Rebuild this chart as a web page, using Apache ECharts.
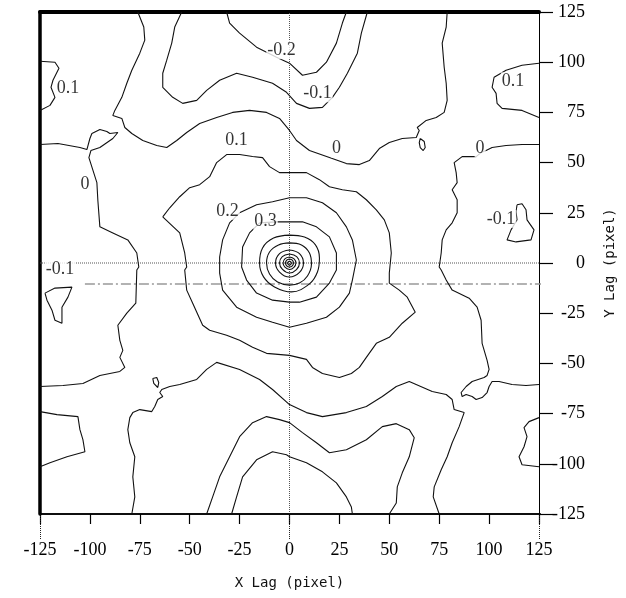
<!DOCTYPE html>
<html>
<head>
<meta charset="utf-8">
<script src="https://cdn.jsdelivr.net/npm/echarts@6/dist/echarts.min.js"></script>
<style>
  html, body { margin: 0; padding: 0; background: #fff; }
  #chart { width: 626px; height: 598px; }
</style>
</head>
<body>
<div id="chart"></div>
<script>
// axis range (pixel lag)
const lagMin = -125
const lagMax = 125
const lagStep = 25

// contour paths, [x lag, y lag]
const topLeftIsland01 = [[-125, 100.5], [-117.5, 100], [-115.5, 97], [-118.5, 91], [-119.5, 87.5], [-117.5, 82.5], [-120, 78.5], [-125, 76]]

const leftZero = [[-125, 59], [-116, 59.5], [-105, 57.5], [-101.5, 56.5], [-100, 62], [-99, 64.5], [-95, 66.5], [-91.5, 65.5], [-90, 64.5], [-86, 65], [-88.5, 62], [-95, 57.5], [-99.5, 56], [-100.5, 52.5], [-96.5, 40], [-96, 31], [-95, 18], [-88.5, 15], [-81, 11.5], [-76.5, 5], [-75.5, -2], [-76.5, -3.5], [-77, -20], [-81.5, -25], [-86, -31], [-85, -38.5], [-83.5, -43.5], [-85, -47], [-82.5, -52], [-85, -54], [-95, -56], [-103.5, -60], [-113.5, -61], [-125, -61.5]]

const topZero = [[-76, 125], [-73, 117.5], [-72.5, 111], [-75, 104.5], [-79, 96], [-81.5, 89.5], [-84, 82.5], [-87.5, 76], [-88.5, 73.5], [-84, 72], [-82.5, 67.5], [-79, 64.5], [-73.5, 61], [-66.5, 58.5], [-61.5, 57.5], [-56.5, 61], [-51.5, 65], [-45, 69.5], [-36.5, 72.5], [-28.5, 75], [-20, 76], [-11.5, 75], [-5, 72], [0, 66], [3.5, 61], [10, 56], [20, 52.5], [28.5, 49.5], [35, 49], [40, 51], [45, 57], [50, 60], [56.5, 62], [63.5, 62.5], [65, 66], [64, 67.5], [68.5, 71], [73.5, 72.5], [77.5, 75], [79, 81], [78.5, 89.5], [77.5, 97.5], [76.5, 109.5], [78.5, 117.5], [79, 125]]

const topZeroIsland = [[65.5, 62], [67.5, 60.5], [68, 57.5], [67, 56], [65.5, 57.5], [65, 60], [65.5, 62]]

const topMinus01 = [[-54, 125], [-57.5, 117.5], [-59, 109.5], [-61.5, 101], [-63.5, 94.5], [-63.5, 87.5], [-58.5, 82.5], [-53.5, 79.5], [-46.5, 81], [-41.5, 86], [-35, 91], [-26.5, 94.5], [-18.5, 92.5], [-8.5, 89.5], [-1.5, 85], [3.5, 79.5], [10, 77], [16.5, 77.5], [21.5, 82.5], [25, 87.5], [29, 94.5], [34, 104.5], [36, 114.5], [39, 125]]

const topMinus02 = [[-31.5, 125], [-30, 119.5], [-25, 114.5], [-16.5, 107.5], [-6.5, 102.5], [0, 99.5], [6.5, 93.5], [13.5, 95], [18.5, 100], [23.5, 109.5], [26.5, 119.5], [28.5, 125]]

const ring01 = [[-63.5, 23], [-60, 27.5], [-55, 33], [-50, 37.5], [-45, 39], [-40, 43], [-36.5, 50], [-31.5, 54], [-25, 54], [-18.5, 53], [-13.5, 52.5], [-10, 48], [-5, 45], [0, 45], [8.5, 45], [15, 41.5], [20, 38], [26.5, 36.5], [33.5, 35.5], [38.5, 31.5], [43.5, 26.5], [47.5, 21.5], [50, 15], [51, 5], [50, -5], [50, -10], [55, -13.5], [59, -17], [63, -24.5], [56.5, -30], [50, -37], [43.5, -40], [38.5, -47], [35, -52], [31, -55], [25, -57], [16.5, -55], [11.5, -52], [8.5, -48], [0, -46], [-11.5, -45], [-18.5, -42], [-25, -38.5], [-31.5, -36], [-40, -33.5], [-43.5, -31], [-48.5, -20], [-51.5, -13.5], [-52.5, -3.5], [-51.5, -2], [-52.5, 5], [-55, 15], [-63.5, 23]]

const ring02 = [[-25, 25], [-16.5, 29], [-8.5, 30.5], [0, 32.5], [8.5, 32.5], [16.5, 30], [23.5, 25], [28.5, 18], [31.5, 11.5], [33.5, 1.5], [31.5, -8.5], [30, -15], [25, -22], [18.5, -27], [8.5, -30], [0, -32], [-8.5, -29.5], [-16.5, -27], [-26.5, -22], [-33.5, -13.5], [-35, -5], [-35, 3], [-33.5, 11.5], [-30, 20], [-25, 25]]

const ring03 = [[-15, 20], [-6.5, 20.5], [0, 20.5], [6.5, 20.5], [13.5, 18], [20, 13], [23.5, 5], [23.5, -3.5], [20, -10], [13.5, -17], [5, -19.5], [0, -19.5], [-8.5, -18.5], [-16.5, -15], [-21.5, -8.5], [-24, -2], [-23.5, 8], [-20, 15], [-15, 20]]

const ring04 = [[0, 13.9], [7.5, 12.9], [13, 9], [15, 2.5], [14, -4.5], [10, -10.4], [1, -14.4], [-7.5, -11.9], [-13, -6.9], [-15, 0], [-13.5, 7.5], [-8, 12.4], [0, 13.9]]
const ring05 = [[0, 10], [6, 9], [10, 5], [11, -0.5], [9, -6.5], [5, -10], [0, -11], [-6, -9.5], [-10, -5.5], [-11.5, 0], [-10, 5.5], [-5.5, 9], [0, 10]]
const ring06 = [[0, 6.5], [5, 4.7], [7, 0], [5, -4.7], [0, -7], [-5, -4.5], [-7, 0], [-5, 4.7], [0, 6.5]]
const ring07 = [[0, 4.5], [3.6, 3.2], [5, 0], [3.5, -3.3], [0, -5], [-3.5, -3.2], [-5, 0], [-3.6, 3.2], [0, 4.5]]
const ring08 = [[0, 3], [2.3, 2.1], [3.2, 0], [2.2, -2.2], [0, -3.2], [-2.3, -2.1], [-3.2, 0], [-2.2, 2.2], [0, 3]]
const ring09 = [[0, 2], [1.4, 1.4], [2, 0], [1.4, -1.4], [0, -2], [-1.4, -1.4], [-2, 0], [-1.4, 1.4], [0, 2]]
const ring10 = [[0, 1], [1, 0], [0, -1], [-1, 0], [0, 1]]

const rightIsland01 = [[125, 99.5], [116.5, 98.5], [108.5, 96], [102.5, 92.5], [101.5, 87.5], [103.5, 84.5], [104, 79.5], [106.5, 77], [116.5, 76], [125, 72.5]]

const rightZero = [[125, 59], [116.5, 59], [108.5, 58.5], [101.5, 57.5], [98.5, 56], [96, 55], [93.5, 53], [86.5, 53], [82.5, 50], [83.5, 45], [84, 40], [81.5, 36.5], [84, 31.5], [84, 25], [81.5, 20], [78.5, 16.5], [76.5, 11.5], [76, 5], [75, -2], [76, -3.5], [78.5, -8.5], [81.5, -13.5], [90, -17.5], [94, -22], [96, -28.5], [96.5, -40], [99, -48.5], [100, -53], [99, -56], [97.5, -57], [91.5, -59], [88.5, -61.5], [86, -64.5], [86.5, -66.5], [88.5, -65.5], [91.5, -66.5], [93.5, -68], [96.5, -67], [99, -64.5], [100, -61.5], [101.5, -59], [105, -59], [111.5, -60.5], [118.5, -61], [125, -60.5]]

const rightIslandMinus01 = [[114, 29], [116.5, 29.5], [118.5, 26.5], [119, 21.5], [122.5, 16.5], [121, 11.5], [113.5, 10.5], [109, 11.5], [111, 16.5], [114, 21.5], [113.5, 25.5], [114, 29]]

const rightBottomIsland = [[125, -77], [120, -79], [117.5, -82], [119, -86.5], [117.5, -91.5], [115, -96.5], [116.5, -100.5], [125, -101.5]]

const bottomZero = [[75, -125], [72, -116.5], [72.5, -111.5], [76, -103], [79, -96.5], [81.5, -89.5], [85, -81.5], [87.5, -74.5], [82.5, -73], [81.5, -68], [78.5, -65.5], [71.5, -64], [60, -59], [53.5, -61.5], [46.5, -66.5], [38.5, -71.5], [28.5, -74.5], [16.5, -76.5], [8.5, -74.5], [0, -70.5], [-8.5, -63], [-15, -58], [-25, -53], [-36.5, -49.5], [-41.5, -53], [-46.5, -58], [-55, -60.5], [-60, -61.5], [-64, -63], [-65, -64.5], [-63.5, -66.5], [-66, -68], [-67.5, -71.5], [-69, -74], [-75, -73], [-78.5, -74.5], [-80, -77], [-81, -83], [-80, -89.5], [-77.5, -96.5], [-78.5, -106.5], [-77.5, -116.5], [-79, -125]]

const bottomZeroIsland = [[-68.5, -57.5], [-66.5, -57], [-65.5, -59.5], [-66, -62], [-67, -62.5], [-68, -60], [-68.5, -57.5]]

const bottomMinus01 = [[-41.5, -125], [-38.5, -116.5], [-35, -106.5], [-30, -96.5], [-25, -86.5], [-18.5, -79.5], [-11.5, -76.5], [-5, -78], [0, -79.5], [6.5, -84.5], [13.5, -89.5], [20, -94.5], [28.5, -93], [38.5, -88], [46.5, -81.5], [53.5, -80], [60, -83], [62.5, -87], [60, -96.5], [56.5, -104.5], [54, -111.5], [53.5, -119.5], [50, -125]]

const bottomMinus02 = [[-29, -125], [-26.5, -116.5], [-23.5, -106.5], [-16.5, -98], [-8.5, -94], [-1.5, -95.5], [0, -96.5], [8.5, -99.5], [16.5, -104], [23.5, -109.5], [28.5, -116.5], [31, -121.5], [31.5, -125]]

const leftBottomIsland = [[-125, -74], [-116.5, -75.5], [-106, -76.5], [-105, -83], [-103.5, -88], [-102.5, -94], [-111.5, -96.5], [-120, -99.5], [-125, -101.5]]

const leftIslandMinus01 = [[-122.5, -15], [-117.5, -12.5], [-109, -12], [-111, -17], [-114, -22], [-114, -30], [-117.5, -28.5], [-119, -23.5], [-121.5, -18.5], [-122.5, -15]]

// contour level labels [x, y, text]
const contourLabels = [
  [-4, 106, '-0.2'],
  [14, 84.5, '-0.1'],
  [-111, 87, '0.1'],
  [-26.5, 61, '0.1'],
  [23.5, 57, '0'],
  [95.5, 57, '0'],
  [112, 90.5, '0.1'],
  [-102.5, 39, '0'],
  [-31, 26, '0.2'],
  [-12, 21, '0.3'],
  [106, 22, '-0.1'],
  [-115, -3, '-0.1']
]

// reference lines
const zeroVertical = [[0, -125], [0, 125]]
const zeroHorizontal = [[-125, 0], [125, 0]]
const offsetLine = [[-102.5, -10.5], [155, -10.5]]
const baseLine = [[-140, -125], [137, -125]]

const wigglyPaths = [
  topLeftIsland01, leftZero, topZero, topZeroIsland, topMinus01, topMinus02,
  ring01, ring02, ring03, rightIsland01, rightZero, rightIslandMinus01,
  rightBottomIsland, bottomZero, bottomZeroIsland, bottomMinus01, bottomMinus02,
  leftBottomIsland, leftIslandMinus01
]
const roundPaths = [ring04, ring05, ring06, ring07, ring08, ring09, ring10]

// Times 字体
const serif = '"Liberation Serif", "Times New Roman", "DejaVu Serif", serif'

const contourSeries = (path, smooth) => ({
  type: 'line',
  data: path,
  showSymbol: false,
  smooth: smooth,
  silent: true,
  z: 3,
  lineStyle: { color: '#111', width: 1.1 }
})

const refSeries = (path, style, clip) => ({
  type: 'line',
  data: path,
  showSymbol: false,
  silent: true,
  clip: clip,
  z: 2,
  lineStyle: style
})

const chart = echarts.init(document.getElementById('chart'), null, { renderer: 'canvas' })

const option = {
  animation: false,
  backgroundColor: '#fff',
  grid: { left: 40, right: 87, top: 12, bottom: 84, show: false },
  xAxis: [
    {
      type: 'value',
      min: lagMin,
      max: lagMax,
      interval: lagStep,
      position: 'bottom',
      name: 'X Lag (pixel)',
      nameLocation: 'middle',
      nameGap: 62,
      nameTextStyle: { fontFamily: 'DejaVu Sans Mono', fontSize: 14, color: '#111' },
      axisLine: { onZero: false, lineStyle: { color: '#000', width: 1.5 } },
      axisTick: { length: 10, lineStyle: { color: '#000', width: 1.2 } },
      axisLabel: { margin: 27, fontFamily: serif, fontSize: 18, color: '#000' },
      splitLine: { show: false }
    },
    {
      // 两端和中间的长刻度
      type: 'value',
      min: lagMin,
      max: lagMax,
      interval: 125,
      position: 'bottom',
      axisLine: { show: false, onZero: false },
      axisTick: { length: 26, lineStyle: { color: '#222', width: 1, type: 'dotted' } },
      axisLabel: { show: false },
      splitLine: { show: false }
    },
    {
      type: 'value',
      min: lagMin,
      max: lagMax,
      position: 'top',
      axisLine: { onZero: false, lineStyle: { color: '#000', width: 4 } },
      axisTick: { show: false },
      axisLabel: { show: false },
      splitLine: { show: false }
    }
  ],
  yAxis: [
    {
      type: 'value',
      min: lagMin,
      max: lagMax,
      interval: lagStep,
      position: 'right',
      name: 'Y Lag (pixel)',
      nameLocation: 'middle',
      nameRotate: 90,
      nameGap: 64,
      nameTextStyle: { fontFamily: 'DejaVu Sans Mono', fontSize: 14, color: '#111' },
      axisLine: { onZero: false, lineStyle: { color: '#000', width: 1 } },
      axisTick: { length: 14, lineStyle: { color: '#000', width: 1.2 } },
      axisLabel: { margin: 46, align: 'right', fontFamily: serif, fontSize: 18, color: '#000' },
      splitLine: { show: false }
    },
    {
      type: 'value',
      min: lagMin,
      max: lagMax,
      position: 'left',
      axisLine: { onZero: false, lineStyle: { color: '#000', width: 3.5 } },
      axisTick: { show: false },
      axisLabel: { show: false },
      splitLine: { show: false }
    }
  ],
  series: [
    refSeries(zeroVertical, { color: '#555', width: 1, type: 'dotted' }, true),
    refSeries(zeroHorizontal, { color: '#555', width: 1, type: 'dotted' }, true),
    refSeries(offsetLine, { color: '#999', width: 1.5, type: [10, 3, 2, 3] }, false),
    refSeries(baseLine, { color: '#000', width: 1.5 }, false),
    ...wigglyPaths.map((p) => contourSeries(p, false)),
    ...roundPaths.map((p) => contourSeries(p, 0.4)),
    {
      type: 'scatter',
      data: contourLabels,
      symbolSize: 0,
      silent: true,
      z: 5,
      label: {
        show: true,
        position: 'inside',
        formatter: (p) => p.data[2],
        fontFamily: serif,
        fontSize: 18,
        color: '#000',
        backgroundColor: '#fff',
        padding: [0, 1]
      }
    }
  ]
}

chart.setOption(option)
</script>
</body>
</html>
